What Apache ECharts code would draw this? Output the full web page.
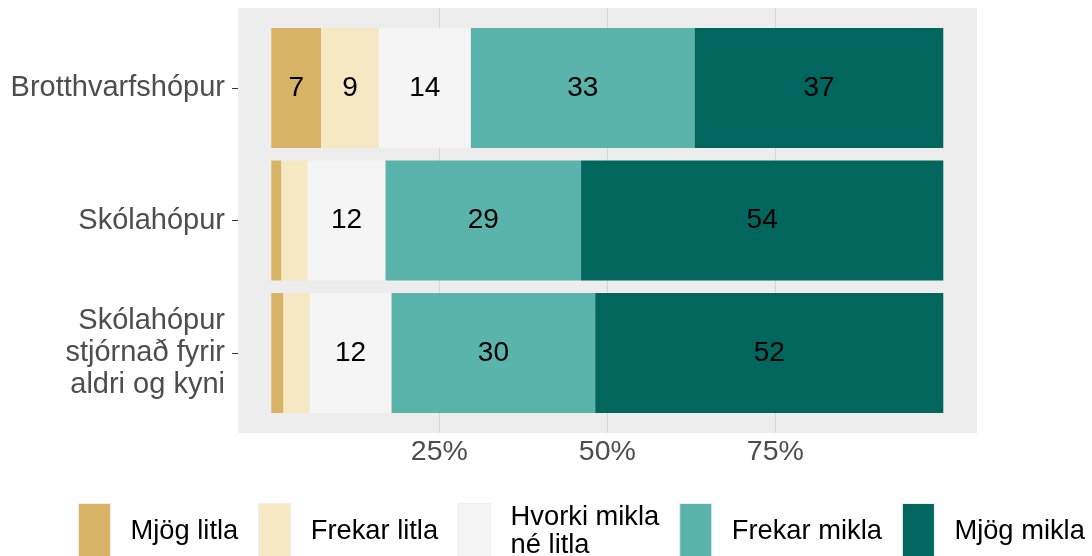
<!DOCTYPE html>
<html>
<head>
<meta charset="utf-8">
<script src="https://cdn.jsdelivr.net/npm/echarts@6/dist/echarts.min.js"></script>
<style>
  html, body { margin: 0; padding: 0; background: #fff; }
  #chart { width: 1092px; height: 556px; }
</style>
</head>
<body>
<div id="chart"></div>
<script>
// hópar (efst fyrst)
var hopar = ['Brotthvarfshópur', 'Skólahópur', 'Skólahópur\nstjórnað fyrir\naldri og kyni'];
// svarflokkar
var flokkar = ['Mjög litla', 'Frekar litla', 'Hvorki mikla\nné litla', 'Frekar mikla', 'Mjög mikla'];
var litir = ['#D8B365', '#F6E8C3', '#F5F5F5', '#5AB4AC', '#01665E'];

// hlutföll í % fyrir hvern hóp
var mjogLitla   = [7.4, 1.5, 1.8];
var frekarLitla = [8.6, 3.9, 3.9];
var hvorki      = [13.7, 11.6, 12.2];
var frekarMikla = [33.3, 29.1, 30.3];
var mjogMikla   = [37.0, 53.9, 51.8];

var gildi = [mjogLitla, frekarLitla, hvorki, frekarMikla, mjogMikla];

var letur = 'Liberation Sans, Arial, Helvetica, sans-serif';

var chart = echarts.init(document.getElementById('chart'));

var series = flokkar.map(function(nafn, i) {
    return {
        name: nafn,
        type: 'bar',
        stack: 'alls',
        xAxisIndex: 2,
        yAxisIndex: 2,
        barWidth: 120,
        itemStyle: { color: litir[i] },
        label: {
            show: true,
            position: 'inside',
            color: '#000',
            fontSize: 28,
            fontFamily: letur,
            formatter: function(p) {
                return p.value >= 5 ? Math.round(p.value) : '';
            }
        },
        emphasis: { disabled: true },
        data: gildi[i]
    };
});

chart.setOption({
    animation: false,
    textStyle: { fontFamily: letur },
    grid: [
        // bakgrunnur
        { left: 238, top: 8, width: 739, height: 425, show: true, backgroundColor: '#EDEDED', borderWidth: 0 },
        // hnitalínur
        { left: 271.3, top: 8, width: 672, height: 425 },
        // súlur
        { left: 271.3, top: 21.75, width: 672, height: 397.5 },
        // flokkaás við brún bakgrunns
        { left: 238, top: 21.75, width: 705.3, height: 397.5 }
    ],
    xAxis: [
        { gridIndex: 0, type: 'value', min: 0, max: 1, show: false },
        {
            gridIndex: 1, type: 'value', min: 0, max: 100, interval: 25,
            axisLine: { show: false },
            axisTick: { show: false },
            axisLabel: {
                formatter: '{value}%',
                showMinLabel: false,
                showMaxLabel: false,
                color: '#4D4D4D',
                fontSize: 28.5,
                margin: 5
            },
            splitLine: {
                show: true,
                showMinLine: false,
                showMaxLine: false,
                lineStyle: { color: '#D6D6D6', width: 1 }
            }
        },
        { gridIndex: 2, type: 'value', min: 0, max: 100, show: false },
        { gridIndex: 3, type: 'value', min: 0, max: 1, show: false }
    ],
    yAxis: [
        { gridIndex: 0, type: 'value', min: 0, max: 1, show: false },
        { gridIndex: 1, type: 'value', min: 0, max: 1, show: false },
        { gridIndex: 2, type: 'category', inverse: true, data: hopar, show: false },
        {
            gridIndex: 3,
            type: 'category',
            inverse: true,
            data: hopar,
            axisLine: { show: false },
            axisTick: { show: true, alignWithLabel: true, length: 6, lineStyle: { color: '#333' } },
            axisLabel: {
                color: '#4D4D4D',
                fontSize: 29,
                lineHeight: 32,
                margin: 13,
                align: 'right'
            }
        }
    ],
    legend: {
        data: flokkar,
        left: 78,
        top: 503,
        padding: 0,
        orient: 'horizontal',
        icon: 'rect',
        itemWidth: 32,
        itemHeight: 56,
        itemGap: 20,
        selectedMode: false,
        itemStyle: { borderColor: '#EFEFEF', borderWidth: 1 },
        textStyle: {
            color: '#000',
            fontSize: 27.3,
            lineHeight: 28,
            padding: [0, 0, 0, 15]
        }
    },
    series: series
});
</script>
</body>
</html>
